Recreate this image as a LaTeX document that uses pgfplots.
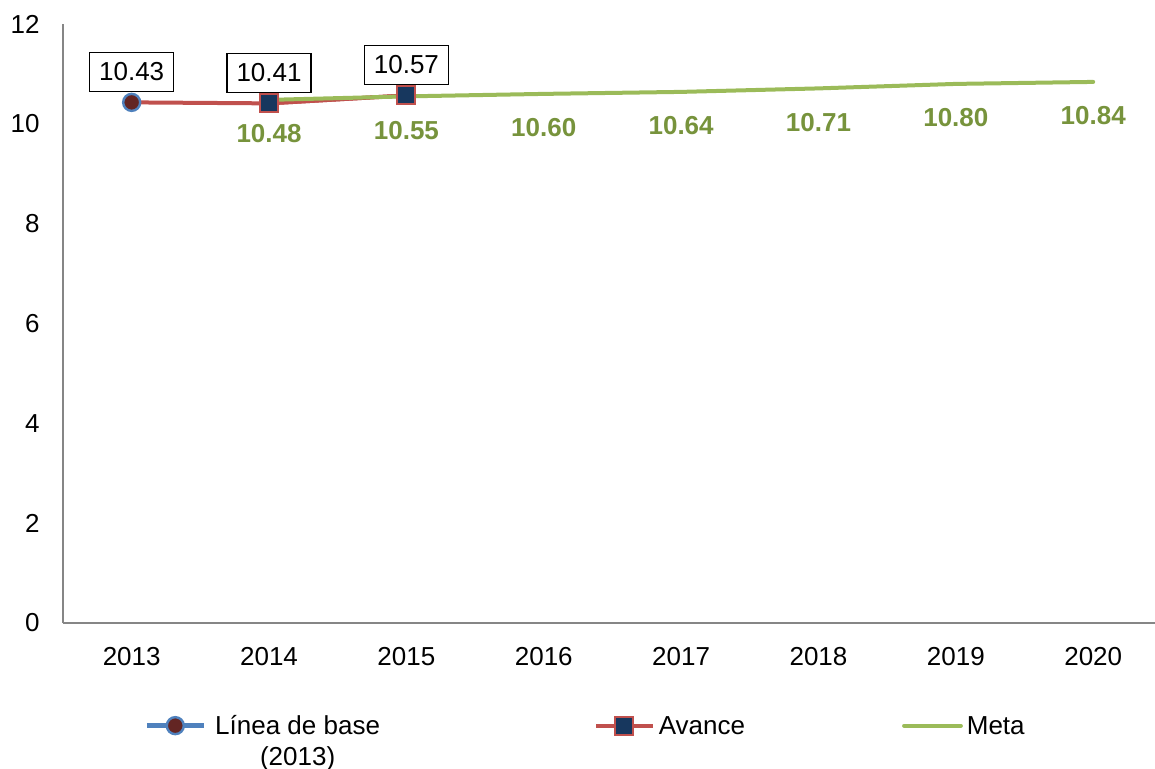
\documentclass[border=0pt]{standalone}
\usepackage{pgfplots}
\pgfplotsset{compat=1.18}
\usepackage{fontspec}
\setmainfont{Liberation Sans}
\definecolor{serieblue}{HTML}{4F81BD}
\definecolor{seriered}{HTML}{C0504D}
\definecolor{seriegreen}{HTML}{9BBB59}
\definecolor{labelgreen}{HTML}{77933C}
\definecolor{navyfill}{HTML}{17375E}
\definecolor{darkredfill}{HTML}{632523}
\definecolor{axisgray}{HTML}{868686}
\newcommand{\chartfont}{\fontsize{13}{15.6}\selectfont}
\newcommand{\twodec}{\pgfmathprintnumber[fixed,fixed zerofill,precision=2]{\pgfplotspointmeta}}

\begin{document}
\chartfont
\begin{tikzpicture}
\begin{axis}[
    name=ax,
    scale only axis,
    width=546pt, height=299.5pt,
    xmin=-0.5, xmax=7.45,
    ymin=0, ymax=12,
    xtick={0,1,2,3,4,5,6,7},
    xticklabels={2013,2014,2015,2016,2017,2018,2019,2020},
    ytick={0,2,4,6,8,10,12},
    axis lines*=left,
    axis line style={color=axisgray, line width=0.8pt},
    major tick length=0pt,
    /pgf/number format/assume math mode=true,
    tick label style={font=\chartfont, text=black},
    xticklabel style={yshift=-7.7pt},
    yticklabel style={xshift=-7.2pt},
    clip=false,
    legend columns=3,
    legend style={
        draw=none, fill=none,
        at={(0,0)}, anchor=north west,
        xshift=40.5pt, yshift=-42.5pt,
        inner sep=0pt,
        font=\chartfont,
        cells={anchor=base west},
        /tikz/column 1/.style={column sep=2.5pt},
        /tikz/column 2/.style={column sep=105pt},
        /tikz/column 3/.style={column sep=0pt},
        /tikz/column 4/.style={column sep=76.5pt},
        /tikz/column 5/.style={column sep=0pt},
    },
    legend image code/.code={
        \draw[mark repeat=2, mark phase=2, #1]
            plot coordinates {(0pt,4.3pt) (14.2pt,4.3pt) (28.4pt,4.3pt)};
    },
]

% Avance line from 2013 (drawn under the base marker)
\addplot[seriered, line width=2pt, mark=none, forget plot]
    coordinates {(0,10.43) (1,10.41) (2,10.57)};

% Linea de base (2013)
\addplot[serieblue, line width=2.5pt, mark=*, mark size=4.25pt,
    mark options={fill=darkredfill, draw=serieblue, line width=1.2pt},
    nodes near coords=\twodec,
    every node near coord/.append style={
        font=\chartfont, text=black, draw=black, line width=0.6pt, fill=white,
        inner xsep=4.75pt, inner ysep=5.3pt, anchor=south, yshift=5pt},
] coordinates {(0,10.43)};
\addlegendentry{\begin{tabular}[t]{@{}c@{}}Línea de base\\(2013)\end{tabular}}

% Avance
\addplot[seriered, line width=2pt, mark=square*, mark size=4.5pt,
    mark options={fill=navyfill, draw=seriered, line width=1pt},
    nodes near coords=\twodec,
    every node near coord/.append style={
        font=\chartfont, text=black, draw=black, line width=0.6pt, fill=white,
        inner xsep=4.75pt, inner ysep=5.3pt, anchor=south, yshift=5pt},
] coordinates {(1,10.41) (2,10.57)};
\addlegendentry{Avance}

% Meta
\addplot[seriegreen, line width=2pt, mark=none, line cap=round,
    nodes near coords=\twodec,
    every node near coord/.append style={
        font=\chartfont\bfseries, text=labelgreen, anchor=center, yshift=-17pt},
] coordinates {(1,10.48) (2,10.55) (3,10.60) (4,10.64) (5,10.71) (6,10.80) (7,10.84)};
\addlegendentry{Meta}

\end{axis}
\pgfresetboundingbox
\path[use as bounding box] (ax.south west) ++(-31.5pt,-72.5pt) rectangle ++(577.5pt,384pt);
\end{tikzpicture}
\end{document}
